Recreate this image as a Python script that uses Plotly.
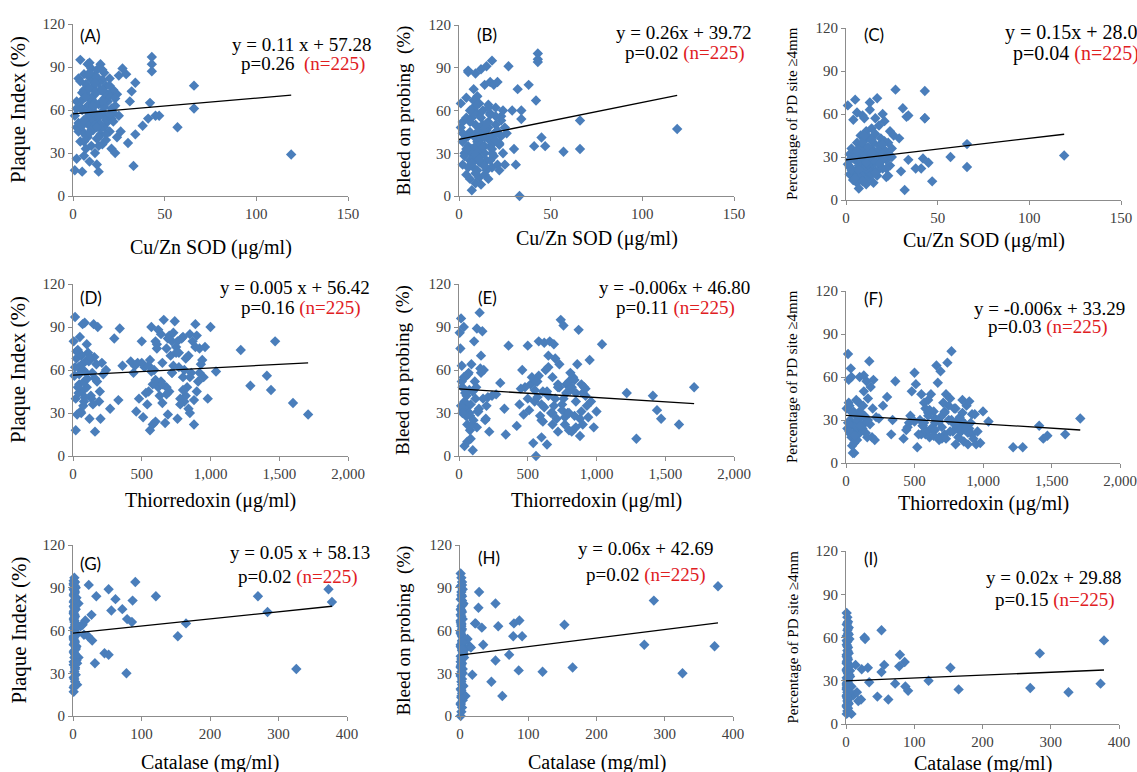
import plotly.graph_objects as go

W, H = 1137, 772

# ---- Row 1: Cu/Zn SOD (ug/ml) ----
sod_ugml = [119, 66, 66, 57, 47, 45, 43, 43, 43, 42, 41, 38, 34, 34, 33, 32, 31, 30, 29, 27,
            1, 1, 2, 2, 3, 3, 4, 4, 5, 5,
            5, 6, 6, 6, 7, 7, 7, 8, 8, 8,
            8, 9, 9, 9, 9, 10, 10, 10, 10, 11,
            11, 11, 11, 12, 12, 12, 12, 13, 13, 13,
            14, 14, 14, 15, 15, 15, 16, 16, 16, 17,
            17, 17, 18, 18, 18, 19, 19, 20, 20, 21,
            21, 22, 22, 23, 23, 24, 24, 25, 25, 26,
            2, 4, 6, 8, 10, 12, 14, 16, 18, 20,
            3, 5, 7, 9, 11, 13, 15, 17, 19, 21,
            4, 6, 8, 10, 12, 14, 16, 18, 20, 22,
            2, 5, 8, 11, 14, 17, 20, 23, 9, 12,
            6, 9, 12, 15, 7, 10, 13, 16, 11, 14]
plaque_vs_sod = [29, 77, 61, 48, 56, 56, 97, 92, 87, 65, 54, 49, 79, 43, 21, 73, 66, 37, 85, 89,
                 18, 56, 26, 66, 82, 45, 95, 38, 17, 60,
                 72, 85, 44, 28, 52, 78, 33, 92, 63, 41,
                 70, 93, 57, 49, 24, 81, 35, 67, 89, 53,
                 76, 46, 62, 30, 84, 58, 71, 40, 22, 88,
                 17, 64, 50, 92, 43, 74, 36, 81, 59, 68,
                 48, 86, 55, 77, 39, 66, 52, 82, 45, 61,
                 33, 74, 58, 30, 63, 41, 71, 56, 84, 45,
                 48, 62, 74, 55, 68, 50, 79, 88, 53, 70,
                 51, 67, 42, 75, 58, 83, 47, 62, 71, 54,
                 80, 38, 59, 46, 73, 55, 66, 43, 77, 52,
                 61, 49, 84, 64, 35, 72, 57, 68, 44, 79,
                 53, 86, 65, 50, 69, 60, 48, 74, 63, 41]
bop_vs_sod = [47, 53, 33, 31, 35, 41, 100, 96, 94, 67, 35, 78, 60, 54, 0, 75, 22, 33, 60, 91,
              65, 48, 22, 52, 40, 30, 69, 15, 88, 35,
              87, 12, 45, 25, 4, 55, 33, 75, 20, 62,
              42, 86, 28, 9, 50, 70, 18, 38, 58, 13,
              48, 27, 65, 36, 8, 55, 89, 22, 44, 60,
              30, 78, 15, 46, 91, 25, 64, 12, 52, 80,
              35, 58, 95, 20, 42, 78, 28, 62, 45, 22,
              80, 36, 18, 56, 42, 30, 60, 48, 22, 44,
              38, 55, 31, 67, 26, 47, 35, 40, 33, 50,
              28, 42, 61, 35, 24, 50, 18, 57, 38, 46,
              33, 52, 27, 64, 40, 21, 48, 30, 56, 37,
              44, 20, 58, 32, 47, 25, 39, 53, 16, 43,
              60, 29, 36, 51, 23, 45, 34, 62, 26, 41]
pd_vs_sod = [31, 39, 23, 30, 13, 26, 76, 57, 57, 29, 22, 22, 28, 59, 58, 7, 64, 20, 43, 77,
             66, 25, 18, 32, 22, 36, 56, 14, 70, 28,
             20, 61, 12, 40, 8, 30, 24, 17, 45, 35,
             26, 59, 14, 38, 22, 57, 19, 42, 31, 11,
             27, 48, 21, 34, 15, 44, 25, 63, 18, 68,
             36, 24, 50, 12, 40, 28, 57, 20, 46, 71,
             33, 17, 38, 52, 25, 30, 43, 60, 22, 35,
             55, 28, 16, 40, 32, 24, 48, 36, 30, 45,
             23, 29, 33, 27, 37, 21, 31, 26, 34, 28,
             21, 30, 16, 38, 25, 43, 19, 33, 27, 41,
             14, 35, 23, 29, 44, 18, 31, 26, 39, 22,
             28, 15, 36, 24, 42, 20, 32, 17, 40, 25,
             34, 13, 37, 28, 21, 45, 30, 19, 26, 33]

# ---- Row 2: Thiorredoxin (ug/ml) ----
trx_ugml = [1040, 1220, 1290, 1410, 1440, 1470, 1600, 1710,
            5, 10, 15, 20, 25, 30, 35, 40, 45, 50,
            55, 60, 65, 70, 75, 80, 85, 90, 100, 110,
            120, 130, 140, 150, 160, 170, 180, 190, 200, 210,
            20, 40, 60, 80, 100, 130, 160, 220, 270, 300,
            330, 340, 360, 420, 440, 460, 480, 500, 510, 520,
            540, 550, 560, 570, 580, 590, 600, 610, 620, 630,
            640, 650, 660, 670, 680, 690, 700, 710, 720, 730,
            740, 750, 760, 770, 780, 790, 800, 810, 820, 830,
            840, 850, 860, 870, 880, 890, 900, 910, 920, 930,
            940, 950, 960, 980, 1000, 500, 600, 700, 800, 900,
            550, 650, 750, 850, 620, 720, 820, 580, 680, 780,
            15, 35, 55, 75, 95, 115, 135, 155, 175, 195,
            25, 45, 65, 85, 105, 125, 145, 240, 450, 470,
            530, 570, 610, 650, 690, 730, 770, 810, 850, 890,
            560, 600, 640, 680, 720, 760, 800, 840, 880, 920]
plaque_vs_trx = [59, 74, 49, 56, 46, 80, 37, 29,
                 80, 56, 97, 40, 68, 29, 74, 62, 50, 83,
                 31, 70, 45, 92, 60, 38, 93, 66, 48, 72,
                 26, 42, 58, 92, 17, 64, 90, 38, 26, 65,
                 18, 44, 30, 52, 78, 68, 54, 57, 33, 82,
                 39, 89, 63, 66, 58, 31, 40, 80, 27, 62,
                 36, 45, 18, 90, 22, 60, 24, 75, 88, 42,
                 52, 65, 95, 23, 48, 29, 84, 70, 58, 86,
                 94, 76, 26, 62, 40, 82, 55, 38, 68, 48,
                 33, 85, 58, 80, 22, 92, 84, 52, 75, 64,
                 67, 55, 76, 40, 90, 65, 80, 45, 83, 45,
                 63, 37, 72, 30, 48, 80, 42, 50, 75, 36,
                 62, 48, 71, 35, 58, 66, 40, 69, 52, 45,
                 73, 57, 64, 41, 54, 69, 36, 60, 63, 65,
                 44, 59, 78, 50, 82, 63, 72, 60, 55, 76,
                 67, 53, 85, 43, 58, 80, 46, 70, 39, 58]
bop_vs_trx = [78, 44, 12, 42, 32, 26, 22, 48,
              86, 75, 96, 63, 48, 32, 90, 7, 55, 28,
              42, 22, 35, 58, 30, 18, 12, 64, 4, 80,
              40, 89, 31, 100, 70, 87, 60, 25, 35, 41,
              52, 38, 10, 28, 45, 20, 58, 17, 43, 51,
              33, 15, 77, 21, 36, 60, 48, 77, 32, 50,
              9, 38, 0, 52, 80, 28, 13, 45, 79, 60,
              8, 42, 80, 30, 55, 78, 40, 26, 48, 64,
              95, 36, 91, 22, 50, 30, 18, 46, 17, 55,
              28, 38, 64, 88, 14, 50, 22, 48, 42, 35,
              27, 67, 38, 20, 31, 40, 25, 68, 52, 44,
              46, 70, 32, 20, 34, 17, 48, 56, 30, 44,
              35, 55, 28, 46, 22, 52, 31, 61, 40, 26,
              30, 44, 57, 36, 25, 48, 33, 42, 47, 29,
              55, 41, 24, 62, 35, 48, 27, 58, 44, 31,
              52, 36, 45, 22, 50, 40, 30, 53, 26, 47]
pd_vs_trx = [29, 11, 11, 26, 17, 19, 20, 31,
             38, 24, 76, 58, 40, 30, 66, 18, 12, 7,
             26, 7, 34, 22, 44, 16, 28, 20, 60, 32,
             24, 61, 28, 57, 45, 71, 53, 18, 58, 16,
             42, 60, 14, 25, 36, 50, 30, 32, 40, 46,
             20, 30, 57, 17, 23, 28, 50, 63, 55, 11,
             30, 48, 26, 42, 20, 22, 35, 18, 48, 24,
             36, 28, 68, 56, 18, 64, 25, 42, 20, 48,
             70, 30, 45, 78, 22, 38, 13, 26, 18, 32,
             22, 44, 15, 27, 40, 13, 43, 28, 20, 17,
             34, 13, 22, 14, 36, 29, 44, 17, 38, 24,
             20, 31, 40, 25, 24, 35, 30, 38, 16, 28,
             28, 20, 36, 16, 42, 24, 33, 18, 27, 38,
             22, 35, 19, 30, 26, 40, 21, 31, 25, 33,
             20, 28, 37, 23, 32, 17, 30, 24, 35, 21,
             26, 33, 19, 29, 36, 22, 27, 30, 25, 34]

# ---- Row 3: Catalase (mg/ml) ----
cat_mgml = [23, 52, 91, 121, 270, 373, 378, 284, 34, 62,
            87, 72, 56, 27, 18, 14, 79, 86, 153, 165,
            32, 46, 52, 78, 326, 8, 8, 6, 11, 16, 22, 28,
            1, 2, 3, 1, 4, 2, 3, 1, 5, 2,
            3, 1, 2, 4, 1, 3, 2, 1, 5, 3,
            2, 1, 3, 4, 2, 1, 3, 2, 1, 4,
            2, 3, 1, 2, 5, 1, 3, 2, 4, 1,
            3, 2, 1, 3, 2, 4, 1, 2, 3, 1,
            5, 2, 1, 3, 2, 1, 4, 3, 2, 1,
            2, 3, 1, 4, 2, 3, 1, 2, 6, 1]
plaque_vs_cat = [92, 89, 94, 84, 84, 89, 80, 73, 84, 82,
                 81, 75, 74, 71, 67, 64, 68, 66, 56, 65,
                 37, 44, 43, 30, 33, 79, 41, 22, 63, 57, 56, 53,
                 17, 21, 24, 27, 29, 31, 34, 36, 39, 41,
                 43, 45, 46, 48, 50, 52, 53, 55, 57, 59,
                 60, 62, 63, 65, 66, 68, 70, 71, 73, 75,
                 76, 78, 80, 81, 83, 85, 87, 88, 90, 92,
                 94, 97, 95, 91, 86, 79, 72, 67, 61, 56,
                 49, 44, 38, 33, 26, 20, 47, 58, 69, 77,
                 84, 64, 54, 42, 74, 82, 89, 51, 37, 93]
bop_vs_cat = [65, 79, 56, 31, 50, 49, 91, 81, 50, 14,
              67, 43, 63, 76, 29, 49, 65, 32, 64, 34,
              62, 24, 39, 56, 30, 14, 47, 52, 54, 48, 65, 87,
              0, 3, 6, 9, 11, 14, 16, 19, 21, 24,
              26, 28, 31, 33, 35, 37, 40, 42, 44, 46,
              48, 50, 53, 55, 57, 59, 61, 64, 66, 68,
              70, 73, 75, 77, 79, 82, 84, 87, 89, 91,
              94, 97, 100, 92, 85, 78, 71, 63, 56, 49,
              43, 36, 29, 22, 13, 8, 45, 52, 60, 67,
              74, 81, 38, 30, 18, 47, 58, 65, 41, 34]
pd_vs_cat = [38, 65, 23, 30, 25, 28, 58, 49, 29, 17,
             26, 28, 41, 60, 16, 41, 48, 43, 39, 24,
             39, 19, 36, 40, 22, 7, 26, 37, 20, 22, 17, 59,
             7, 9, 11, 13, 14, 16, 17, 19, 20, 22,
             23, 24, 26, 27, 28, 30, 31, 32, 34, 35,
             36, 38, 39, 40, 42, 43, 45, 46, 48, 49,
             51, 53, 55, 57, 59, 61, 63, 65, 67, 69,
             71, 74, 77, 15, 18, 21, 25, 29, 33, 37,
             41, 44, 47, 50, 54, 58, 62, 66, 70, 12,
             25, 31, 27, 22, 18, 35, 42, 29, 33, 20]

# regression lines printed on the chart (slope, intercept)
slopes = [0.11, 0.26, 0.15, 0.005, -0.006, -0.006, 0.05, 0.06, 0.02]
intercepts = [57.28, 39.72, 28.03, 56.42, 46.80, 33.29, 58.13, 42.69, 29.88]
equations = ["y = 0.11 x + 57.28", "y = 0.26x + 39.72", "y = 0.15x + 28.03",
             "y = 0.005 x + 56.42", "y = -0.006x + 46.80", "y = -0.006x + 33.29",
             "y = 0.05 x + 58.13", "y = 0.06x + 42.69", "y = 0.02x + 29.88"]
pvalues = ["p=0.26&nbsp;&nbsp;", "p=0.02 ", "p=0.04 ", "p=0.16 ", "p=0.11 ", "p=0.03 ",
           "p=0.02 ", "p=0.02 ", "p=0.15 "]
letters = ["(A)", "(B)", "(C)", "(D)", "(E)", "(F)", "(G)", "(H)", "(I)"]

x_data = [sod_ugml] * 3 + [trx_ugml] * 3 + [cat_mgml] * 3
y_data = [plaque_vs_sod, bop_vs_sod, pd_vs_sod,
          plaque_vs_trx, bop_vs_trx, pd_vs_trx,
          plaque_vs_cat, bop_vs_cat, pd_vs_cat]
y_titles = ["Plaque Index (%)", "Bleed on probing&nbsp;&nbsp;(%)", "Percentage of PD site \u22654mm"] * 3
x_titles = ["Cu/Zn SOD (\u03bcg/ml)"] * 3 + ["Thiorredoxin (\u03bcg/ml)"] * 3 + ["Catalase (mg/ml)"] * 3
x_ranges = [150] * 3 + [2000] * 3 + [400] * 3
x_dticks = [50] * 3 + [500] * 3 + [100] * 3

# pixel layout per panel: plot box (l, r, t, b), equation pos, p-line pos, letter pos,
# y-title x, x-title y
boxes = [(73, 348, 24, 196), (459, 734, 25, 196), (846, 1121, 28, 200),
         (73, 348, 284, 456), (459, 734, 284, 456), (846, 1120, 291, 463),
         (73, 347, 545, 716), (460, 733, 545, 716), (846, 1119, 551, 724)]
eq_pos = [(373, 45), (753, 32), (1003, 32), (372, 287), (752, 287), (1127, 308),
          (372, 552), (715, 548), (1123, 577)]
p_pos = [(367, 64), (747, 53), (1011, 53), (363, 308), (737, 308), (1110, 327),
         (360, 577), (708, 575), (1117, 600)]
lab_pos = [(78, 35), (475, 34), (862, 34), (78, 297), (476, 297), (862, 298),
           (78, 563), (476, 557), (862, 558)]
ytitle_x = [18, 403, 792] * 3
xtitle_y = [247, 238, 240, 500, 500, 503, 762, 762, 763]

SERIF = "Liberation Serif, Times New Roman, serif"
BLUE = "#4a7ebb"
AXIS = "#8c8c8c"


def fx(p):
    return p / W


def fy(p):
    return 1 - p / H


fig = go.Figure()
annotations = []
for i in range(9):
    n = "" if i == 0 else str(i + 1)
    l, r, t, b = boxes[i]
    xmax = max(x_data[i])
    fig.add_trace(go.Scatter(
        x=x_data[i], y=y_data[i], mode="markers", xaxis="x" + n, yaxis="y" + n,
        marker=dict(symbol="diamond", size=8, color=BLUE), cliponaxis=False,
        showlegend=False, hoverinfo="x+y"))
    fig.add_trace(go.Scatter(
        x=[0, xmax], y=[intercepts[i], slopes[i] * xmax + intercepts[i]], mode="lines",
        xaxis="x" + n, yaxis="y" + n, line=dict(color="black", width=1.3),
        showlegend=False, hoverinfo="skip"))
    fig.update_layout(**{
        "xaxis" + n: dict(domain=[fx(l), fx(r)], anchor="y" + n, range=[0, x_ranges[i]],
                          dtick=x_dticks[i], tickformat=",", showgrid=False, zeroline=False,
                          showline=True, linecolor=AXIS, linewidth=1, ticks="outside",
                          ticklen=4, tickcolor=AXIS, automargin=False,
                          tickfont=dict(family=SERIF, size=15, color="#404040")),
        "yaxis" + n: dict(domain=[fy(b), fy(t)], anchor="x" + n, range=[0, 120], dtick=30,
                          showgrid=False, zeroline=False, showline=True, linecolor=AXIS,
                          linewidth=1, ticks="outside", ticklen=4, tickcolor=AXIS,
                          automargin=False,
                          tickfont=dict(family=SERIF, size=15, color="#404040")),
    })
    left_align = i == 2
    eq_size = 20 if left_align else 19
    annotations.append(dict(x=fx(eq_pos[i][0]), y=fy(eq_pos[i][1]), text=equations[i],
                            xanchor="left" if left_align else "right", yanchor="middle",
                            font=dict(family=SERIF, size=eq_size, color="black")))
    annotations.append(dict(x=fx(p_pos[i][0]), y=fy(p_pos[i][1]),
                            text=pvalues[i] + "<span style='color:#e0201f'>(n=225)</span>",
                            xanchor="left" if left_align else "right", yanchor="middle",
                            font=dict(family=SERIF, size=eq_size, color="black")))
    annotations.append(dict(x=fx(lab_pos[i][0]), y=fy(lab_pos[i][1]), text=letters[i],
                            xanchor="left", yanchor="middle",
                            font=dict(family="Lato, Open Sans, sans-serif", size=17, color="black")))
    small = i % 3 == 2
    annotations.append(dict(x=fx(ytitle_x[i]), y=fy((t + b) / 2), text=y_titles[i],
                            textangle=-90, xanchor="center", yanchor="middle",
                            font=dict(family=SERIF, size=15 if small else (21 if i % 3 == 0 else 19),
                                      color="black")))
    annotations.append(dict(x=fx((l + r) / 2), y=fy(xtitle_y[i]), text=x_titles[i],
                            xanchor="center", yanchor="middle",
                            font=dict(family=SERIF, size=20, color="black")))

for a in annotations:
    a.update(xref="paper", yref="paper", showarrow=False)

fig.update_layout(width=W, height=H, margin=dict(l=0, r=0, t=0, b=0),
                  paper_bgcolor="white", plot_bgcolor="white", annotations=annotations)

# page body has a default 8px margin; remove it so the figure fills the window
fig.write_html("out.html", config={"displayModeBar": False},
               post_script="document.body.style.margin='0';")
